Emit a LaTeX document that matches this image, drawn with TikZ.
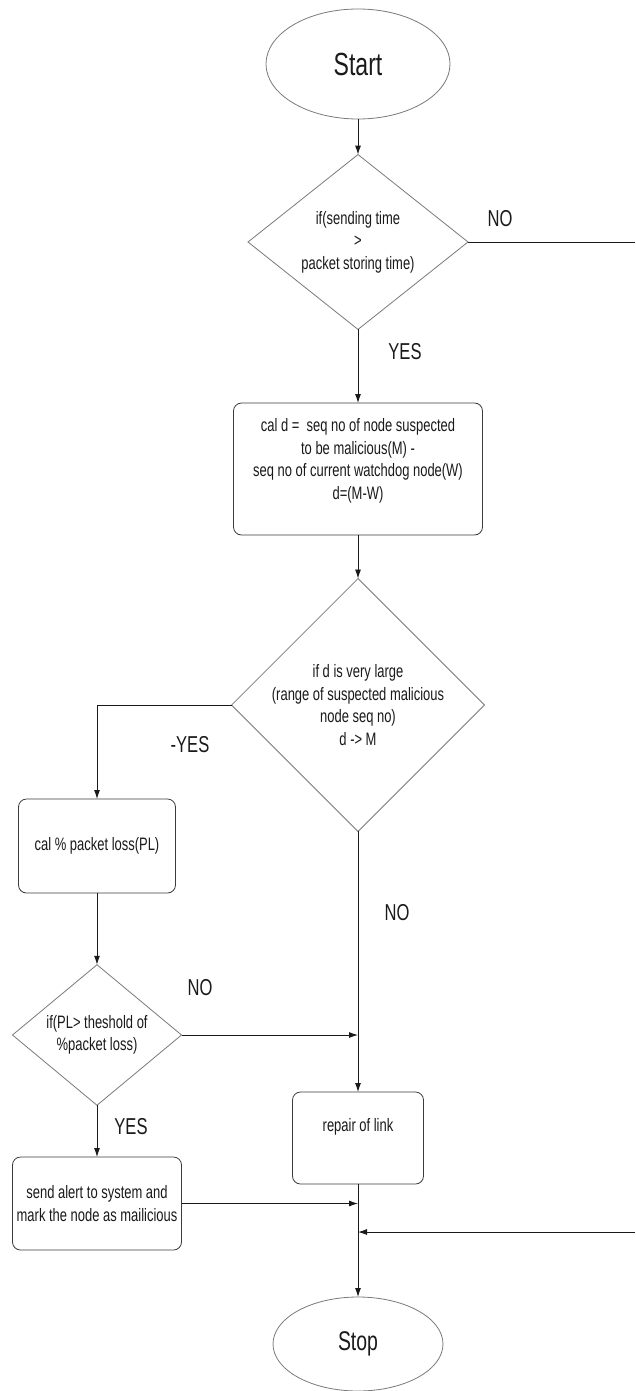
\documentclass[tikz,border=0pt]{standalone}
\usepackage{fontspec}
\setmainfont{Liberation Sans}
\newfontfamily\cf[FakeStretch=0.72]{Liberation Sans}
\usetikzlibrary{shapes.geometric,arrows.meta}
\definecolor{shp}{HTML}{7A7A7A}
\definecolor{boxc}{HTML}{3C3C3C}
\definecolor{txt}{HTML}{1A1A1A}
\definecolor{ln}{HTML}{1A1A1A}
\begin{document}
\begin{tikzpicture}[x=1pt,y=-1pt,
  base/.style={outer sep=0pt, inner sep=0pt, text=txt, align=center,
               font=\cf\fontsize{18}{22.5}\selectfont},
  term/.style={base, ellipse, draw=shp, line width=0.8pt},
  decision/.style={base, diamond, draw=shp, line width=0.8pt},
  proc/.style={base, rectangle, rounded corners=8pt, draw=boxc, line width=0.8pt},
  lbl/.style={base, font=\cf\fontsize{23}{26}\selectfont},
  conn/.style={draw=ln, line width=0.9pt},
  arr/.style={conn, -{Latex[length=9pt,width=6pt]}}
]
\fill[white] (0,0) rectangle (635,1391);
\useasboundingbox (0,0) rectangle (635,1391);

% nodes
\node[term, minimum width=184pt, minimum height=110pt,
      font=\cf\fontsize{32}{36}\selectfont] (start) at (358,64) {Start};
\node[decision, minimum width=220pt, minimum height=168pt] (d1) at (358,242)
  {if(sending time\\>\\packet storing time)};
\node[proc, minimum width=249pt, minimum height=132pt,
      label={[base,yshift=8pt]center:cal d =\ \ seq no of node suspected\\to be malicious(M) -\\seq no of current watchdog node(W)\\d=(M-W)}]
  (box1) at (358,469) {};
\node[decision, minimum width=234pt, minimum height=170pt] (d2) at (358,705)
  {if d is very large\\(range of suspected malicious\\node seq no)\\d -> M};
\node[proc, minimum width=157pt, minimum height=94pt] (box2) at (97,846)
  {cal \% packet loss(PL)};
\node[decision, minimum width=169pt, minimum height=112pt] (d3) at (97,1035)
  {if(PL> theshold of\\\%packet loss)};
\node[proc, minimum width=131pt, minimum height=92pt,
      label={[base,yshift=11pt]center:repair of link}]
  (repair) at (358,1138) {};
\node[proc, minimum width=169pt, minimum height=93pt] (alert) at (97,1203.5)
  {send alert to system and\\mark the node as mailicious};
\node[term, minimum width=170pt, minimum height=94pt,
      font=\cf\fontsize{27}{30}\selectfont] (stop) at (358,1344) {Stop};

% free ends at the right edge
\coordinate (r1) at (635,242);
\coordinate (r2) at (635,1232);

% labels
\node[lbl] (no1) at (500,219) {NO};
\node[lbl] (yes1) at (405,352) {YES};
\node[lbl] (yes2) at (190,745) {-YES};
\node[lbl] (no2) at (397,913) {NO};
\node[lbl] (no3) at (200,988) {NO};
\node[lbl] (yes3) at (131,1127) {YES};

% connectors
\draw[arr] (start) -- (d1);
\draw[conn] (d1.east) -- (r1);
\draw[arr] (d1) -- (box1);
\draw[arr] (box1) -- (d2);
\draw[arr] (d2.west) -| (box2.north);
\draw[arr] (d2.south) -- (repair.north);
\draw[arr] (box2) -- (d3);
\draw[arr] (d3.east) -- (d3.east -| repair.north);
\draw[arr] (d3) -- (alert);
\draw[arr] (repair.south) -- (stop.north);
\draw[arr] (alert.east) -- (alert.east -| repair.south);
\draw[arr] (r2) -- (r2 -| repair.south);
\end{tikzpicture}
\end{document}
